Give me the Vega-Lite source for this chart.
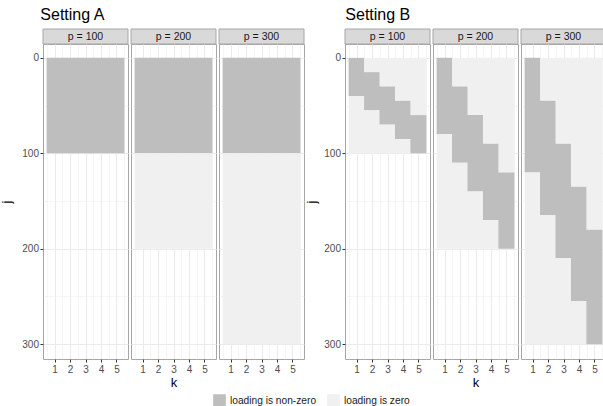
{
  "$schema": "https://vega.github.io/schema/vega-lite/v6.json",
  "padding": {"left": 0, "top": 6, "right": 0, "bottom": 0},
  "background": "white",
  "spacing": 0,
  "config": {
    "font": "Liberation Sans",
    "view": {"stroke": "#a6a6a6", "strokeWidth": 1},
    "title": {"fontSize": 16, "fontWeight": "normal", "color": "#000000", "anchor": "start", "offset": 6},
    "concat": {"spacing": 1},
    "axis": {"labelFont": "Liberation Sans", "titleFont": "Liberation Sans", "titleFontWeight": "normal"}
  },
  "datasets": {
    "tiles": [
      {"setting": "A", "p": 100, "k": 1, "j_from": 0, "j_to": 100, "status": "loading is non-zero"},
      {"setting": "A", "p": 100, "k": 2, "j_from": 0, "j_to": 100, "status": "loading is non-zero"},
      {"setting": "A", "p": 100, "k": 3, "j_from": 0, "j_to": 100, "status": "loading is non-zero"},
      {"setting": "A", "p": 100, "k": 4, "j_from": 0, "j_to": 100, "status": "loading is non-zero"},
      {"setting": "A", "p": 100, "k": 5, "j_from": 0, "j_to": 100, "status": "loading is non-zero"},
      {"setting": "A", "p": 200, "k": 1, "j_from": 0, "j_to": 100, "status": "loading is non-zero"},
      {"setting": "A", "p": 200, "k": 2, "j_from": 0, "j_to": 100, "status": "loading is non-zero"},
      {"setting": "A", "p": 200, "k": 3, "j_from": 0, "j_to": 100, "status": "loading is non-zero"},
      {"setting": "A", "p": 200, "k": 4, "j_from": 0, "j_to": 100, "status": "loading is non-zero"},
      {"setting": "A", "p": 200, "k": 5, "j_from": 0, "j_to": 100, "status": "loading is non-zero"},
      {"setting": "A", "p": 200, "k": 1, "j_from": 100, "j_to": 200, "status": "loading is zero"},
      {"setting": "A", "p": 200, "k": 2, "j_from": 100, "j_to": 200, "status": "loading is zero"},
      {"setting": "A", "p": 200, "k": 3, "j_from": 100, "j_to": 200, "status": "loading is zero"},
      {"setting": "A", "p": 200, "k": 4, "j_from": 100, "j_to": 200, "status": "loading is zero"},
      {"setting": "A", "p": 200, "k": 5, "j_from": 100, "j_to": 200, "status": "loading is zero"},
      {"setting": "A", "p": 300, "k": 1, "j_from": 0, "j_to": 100, "status": "loading is non-zero"},
      {"setting": "A", "p": 300, "k": 2, "j_from": 0, "j_to": 100, "status": "loading is non-zero"},
      {"setting": "A", "p": 300, "k": 3, "j_from": 0, "j_to": 100, "status": "loading is non-zero"},
      {"setting": "A", "p": 300, "k": 4, "j_from": 0, "j_to": 100, "status": "loading is non-zero"},
      {"setting": "A", "p": 300, "k": 5, "j_from": 0, "j_to": 100, "status": "loading is non-zero"},
      {"setting": "A", "p": 300, "k": 1, "j_from": 100, "j_to": 300, "status": "loading is zero"},
      {"setting": "A", "p": 300, "k": 2, "j_from": 100, "j_to": 300, "status": "loading is zero"},
      {"setting": "A", "p": 300, "k": 3, "j_from": 100, "j_to": 300, "status": "loading is zero"},
      {"setting": "A", "p": 300, "k": 4, "j_from": 100, "j_to": 300, "status": "loading is zero"},
      {"setting": "A", "p": 300, "k": 5, "j_from": 100, "j_to": 300, "status": "loading is zero"},

      {"setting": "B", "p": 100, "k": 1, "j_from": 0, "j_to": 40, "status": "loading is non-zero"},
      {"setting": "B", "p": 100, "k": 1, "j_from": 40, "j_to": 100, "status": "loading is zero"},
      {"setting": "B", "p": 100, "k": 2, "j_from": 0, "j_to": 15, "status": "loading is zero"},
      {"setting": "B", "p": 100, "k": 2, "j_from": 15, "j_to": 55, "status": "loading is non-zero"},
      {"setting": "B", "p": 100, "k": 2, "j_from": 55, "j_to": 100, "status": "loading is zero"},
      {"setting": "B", "p": 100, "k": 3, "j_from": 0, "j_to": 30, "status": "loading is zero"},
      {"setting": "B", "p": 100, "k": 3, "j_from": 30, "j_to": 70, "status": "loading is non-zero"},
      {"setting": "B", "p": 100, "k": 3, "j_from": 70, "j_to": 100, "status": "loading is zero"},
      {"setting": "B", "p": 100, "k": 4, "j_from": 0, "j_to": 45, "status": "loading is zero"},
      {"setting": "B", "p": 100, "k": 4, "j_from": 45, "j_to": 85, "status": "loading is non-zero"},
      {"setting": "B", "p": 100, "k": 4, "j_from": 85, "j_to": 100, "status": "loading is zero"},
      {"setting": "B", "p": 100, "k": 5, "j_from": 0, "j_to": 60, "status": "loading is zero"},
      {"setting": "B", "p": 100, "k": 5, "j_from": 60, "j_to": 100, "status": "loading is non-zero"},

      {"setting": "B", "p": 200, "k": 1, "j_from": 0, "j_to": 80, "status": "loading is non-zero"},
      {"setting": "B", "p": 200, "k": 1, "j_from": 80, "j_to": 200, "status": "loading is zero"},
      {"setting": "B", "p": 200, "k": 2, "j_from": 0, "j_to": 30, "status": "loading is zero"},
      {"setting": "B", "p": 200, "k": 2, "j_from": 30, "j_to": 110, "status": "loading is non-zero"},
      {"setting": "B", "p": 200, "k": 2, "j_from": 110, "j_to": 200, "status": "loading is zero"},
      {"setting": "B", "p": 200, "k": 3, "j_from": 0, "j_to": 60, "status": "loading is zero"},
      {"setting": "B", "p": 200, "k": 3, "j_from": 60, "j_to": 140, "status": "loading is non-zero"},
      {"setting": "B", "p": 200, "k": 3, "j_from": 140, "j_to": 200, "status": "loading is zero"},
      {"setting": "B", "p": 200, "k": 4, "j_from": 0, "j_to": 90, "status": "loading is zero"},
      {"setting": "B", "p": 200, "k": 4, "j_from": 90, "j_to": 170, "status": "loading is non-zero"},
      {"setting": "B", "p": 200, "k": 4, "j_from": 170, "j_to": 200, "status": "loading is zero"},
      {"setting": "B", "p": 200, "k": 5, "j_from": 0, "j_to": 120, "status": "loading is zero"},
      {"setting": "B", "p": 200, "k": 5, "j_from": 120, "j_to": 200, "status": "loading is non-zero"},

      {"setting": "B", "p": 300, "k": 1, "j_from": 0, "j_to": 120, "status": "loading is non-zero"},
      {"setting": "B", "p": 300, "k": 1, "j_from": 120, "j_to": 300, "status": "loading is zero"},
      {"setting": "B", "p": 300, "k": 2, "j_from": 0, "j_to": 45, "status": "loading is zero"},
      {"setting": "B", "p": 300, "k": 2, "j_from": 45, "j_to": 165, "status": "loading is non-zero"},
      {"setting": "B", "p": 300, "k": 2, "j_from": 165, "j_to": 300, "status": "loading is zero"},
      {"setting": "B", "p": 300, "k": 3, "j_from": 0, "j_to": 90, "status": "loading is zero"},
      {"setting": "B", "p": 300, "k": 3, "j_from": 90, "j_to": 210, "status": "loading is non-zero"},
      {"setting": "B", "p": 300, "k": 3, "j_from": 210, "j_to": 300, "status": "loading is zero"},
      {"setting": "B", "p": 300, "k": 4, "j_from": 0, "j_to": 135, "status": "loading is zero"},
      {"setting": "B", "p": 300, "k": 4, "j_from": 135, "j_to": 255, "status": "loading is non-zero"},
      {"setting": "B", "p": 300, "k": 4, "j_from": 255, "j_to": 300, "status": "loading is zero"},
      {"setting": "B", "p": 300, "k": 5, "j_from": 0, "j_to": 180, "status": "loading is zero"},
      {"setting": "B", "p": 300, "k": 5, "j_from": 180, "j_to": 300, "status": "loading is non-zero"}
    ]
  },
  "hconcat": [
    {
      "title": {"text": "Setting A", "dx": 40},
      "spacing": 1,
      "hconcat": [
        {"bounds": "flush", "spacing": 0, "vconcat": [
          {"width": 85, "height": 15, "view": {"stroke": null}, "data": {"values": [{"label": "p = 100"}]}, "layer": [
            {"mark": {"type": "rect", "fill": "#d9d9d9", "stroke": "#a6a6a6", "strokeWidth": 1}, "encoding": {}},
            {"mark": {"type": "text", "fontSize": 10.5, "color": "#1a1a1a", "baseline": "middle"}, "encoding": {"text": {"field": "label"}}}
          ]},
          {"width": 85, "height": 315, "data": {"name": "tiles"},
           "transform": [{"filter": "datum.setting === 'A' && datum.p === 100"}],
           "mark": {"type": "rect", "width": 16},
           "encoding": {
             "x": {"field": "k", "type": "quantitative", "scale": {"domain": [0.25, 5.75], "nice": false, "zero": false},
                   "axis": {"title": null, "values": [0.5, 1, 1.5, 2, 2.5, 3, 3.5, 4, 4.5, 5, 5.5], "labelExpr": "datum.value % 1 === 0 ? format(datum.value, 'd') : ''", "domain": false, "tickColor": "#333333", "tickOpacity": {"condition": {"test": "datum.value % 1 === 0", "value": 1}, "value": 0}, "tickSize": 3, "labelFontSize": 10, "labelColor": "#4d4d4d", "labelPadding": 2, "gridColor": "#ebebeb", "gridWidth": {"condition": {"test": "datum.value % 1 === 0", "value": 1}, "value": 0.5}}},
             "y": {"field": "j_from", "type": "quantitative", "scale": {"domain": [-14.5, 315.5], "reverse": true, "nice": false, "zero": false},
                   "axis": {"title": "j", "titleFontSize": 13, "titleColor": "#000000", "titlePadding": 8, "values": [0, 50, 100, 150, 200, 250, 300], "labelExpr": "datum.value % 100 === 0 ? format(datum.value, 'd') : ''", "domain": false, "tickColor": "#333333", "tickOpacity": {"condition": {"test": "datum.value % 100 === 0", "value": 1}, "value": 0}, "tickSize": 3, "labelFontSize": 10, "labelColor": "#4d4d4d", "labelPadding": 1.5, "gridColor": "#ebebeb", "gridWidth": {"condition": {"test": "datum.value % 100 === 0", "value": 1}, "value": 0.5}}},
             "y2": {"field": "j_to"},
             "color": {"field": "status", "type": "nominal", "scale": {"domain": ["loading is non-zero", "loading is zero"], "range": ["#bebebe", "#f0f0f0"]},
                       "legend": {"title": null, "orient": "none", "legendX": 170, "legendY": 365, "direction": "horizontal", "symbolType": "square", "symbolSize": 160, "symbolStrokeWidth": 0, "labelFontSize": 10.2, "labelColor": "#1a1a1a", "columnPadding": 10, "labelOffset": 4}}
           }}
        ]},
        {"bounds": "flush", "spacing": 0, "vconcat": [
          {"width": 85, "height": 15, "view": {"stroke": null}, "data": {"values": [{"label": "p = 200"}]}, "layer": [
            {"mark": {"type": "rect", "fill": "#d9d9d9", "stroke": "#a6a6a6", "strokeWidth": 1}, "encoding": {}},
            {"mark": {"type": "text", "fontSize": 10.5, "color": "#1a1a1a", "baseline": "middle"}, "encoding": {"text": {"field": "label"}}}
          ]},
          {"width": 85, "height": 315, "data": {"name": "tiles"},
           "transform": [{"filter": "datum.setting === 'A' && datum.p === 200"}],
           "mark": {"type": "rect", "width": 16},
           "encoding": {
             "x": {"field": "k", "type": "quantitative", "scale": {"domain": [0.25, 5.75], "nice": false, "zero": false},
                   "axis": {"title": "k", "titleFontSize": 13, "titleColor": "#000000", "titlePadding": 2, "values": [0.5, 1, 1.5, 2, 2.5, 3, 3.5, 4, 4.5, 5, 5.5], "labelExpr": "datum.value % 1 === 0 ? format(datum.value, 'd') : ''", "domain": false, "tickColor": "#333333", "tickOpacity": {"condition": {"test": "datum.value % 1 === 0", "value": 1}, "value": 0}, "tickSize": 3, "labelFontSize": 10, "labelColor": "#4d4d4d", "labelPadding": 2, "gridColor": "#ebebeb", "gridWidth": {"condition": {"test": "datum.value % 1 === 0", "value": 1}, "value": 0.5}}},
             "y": {"field": "j_from", "type": "quantitative", "scale": {"domain": [-14.5, 315.5], "reverse": true, "nice": false, "zero": false},
                   "axis": {"title": null, "labels": false, "ticks": false, "domain": false, "values": [0, 50, 100, 150, 200, 250, 300], "gridColor": "#ebebeb", "gridWidth": {"condition": {"test": "datum.value % 100 === 0", "value": 1}, "value": 0.5}}},
             "y2": {"field": "j_to"},
             "color": {"field": "status", "type": "nominal"}
           }}
        ]},
        {"bounds": "flush", "spacing": 0, "vconcat": [
          {"width": 85, "height": 15, "view": {"stroke": null}, "data": {"values": [{"label": "p = 300"}]}, "layer": [
            {"mark": {"type": "rect", "fill": "#d9d9d9", "stroke": "#a6a6a6", "strokeWidth": 1}, "encoding": {}},
            {"mark": {"type": "text", "fontSize": 10.5, "color": "#1a1a1a", "baseline": "middle"}, "encoding": {"text": {"field": "label"}}}
          ]},
          {"width": 85, "height": 315, "data": {"name": "tiles"},
           "transform": [{"filter": "datum.setting === 'A' && datum.p === 300"}],
           "mark": {"type": "rect", "width": 16},
           "encoding": {
             "x": {"field": "k", "type": "quantitative", "scale": {"domain": [0.25, 5.75], "nice": false, "zero": false},
                   "axis": {"title": null, "values": [0.5, 1, 1.5, 2, 2.5, 3, 3.5, 4, 4.5, 5, 5.5], "labelExpr": "datum.value % 1 === 0 ? format(datum.value, 'd') : ''", "domain": false, "tickColor": "#333333", "tickOpacity": {"condition": {"test": "datum.value % 1 === 0", "value": 1}, "value": 0}, "tickSize": 3, "labelFontSize": 10, "labelColor": "#4d4d4d", "labelPadding": 2, "gridColor": "#ebebeb", "gridWidth": {"condition": {"test": "datum.value % 1 === 0", "value": 1}, "value": 0.5}}},
             "y": {"field": "j_from", "type": "quantitative", "scale": {"domain": [-14.5, 315.5], "reverse": true, "nice": false, "zero": false},
                   "axis": {"title": null, "labels": false, "ticks": false, "domain": false, "values": [0, 50, 100, 150, 200, 250, 300], "gridColor": "#ebebeb", "gridWidth": {"condition": {"test": "datum.value % 100 === 0", "value": 1}, "value": 0.5}}},
             "y2": {"field": "j_to"},
             "color": {"field": "status", "type": "nominal"}
           }}
        ]}
      ]
    },
    {
      "title": {"text": "Setting B", "dx": 40},
      "spacing": 1,
      "hconcat": [
        {"bounds": "flush", "spacing": 0, "vconcat": [
          {"width": 85, "height": 15, "view": {"stroke": null}, "data": {"values": [{"label": "p = 100"}]}, "layer": [
            {"mark": {"type": "rect", "fill": "#d9d9d9", "stroke": "#a6a6a6", "strokeWidth": 1}, "encoding": {}},
            {"mark": {"type": "text", "fontSize": 10.5, "color": "#1a1a1a", "baseline": "middle"}, "encoding": {"text": {"field": "label"}}}
          ]},
          {"width": 85, "height": 315, "data": {"name": "tiles"},
           "transform": [{"filter": "datum.setting === 'B' && datum.p === 100"}],
           "mark": {"type": "rect", "width": 16},
           "encoding": {
             "x": {"field": "k", "type": "quantitative", "scale": {"domain": [0.25, 5.75], "nice": false, "zero": false},
                   "axis": {"title": null, "values": [0.5, 1, 1.5, 2, 2.5, 3, 3.5, 4, 4.5, 5, 5.5], "labelExpr": "datum.value % 1 === 0 ? format(datum.value, 'd') : ''", "domain": false, "tickColor": "#333333", "tickOpacity": {"condition": {"test": "datum.value % 1 === 0", "value": 1}, "value": 0}, "tickSize": 3, "labelFontSize": 10, "labelColor": "#4d4d4d", "labelPadding": 2, "gridColor": "#ebebeb", "gridWidth": {"condition": {"test": "datum.value % 1 === 0", "value": 1}, "value": 0.5}}},
             "y": {"field": "j_from", "type": "quantitative", "scale": {"domain": [-14.5, 315.5], "reverse": true, "nice": false, "zero": false},
                   "axis": {"title": "j", "titleFontSize": 13, "titleColor": "#000000", "titlePadding": 5, "values": [0, 50, 100, 150, 200, 250, 300], "labelExpr": "datum.value % 100 === 0 ? format(datum.value, 'd') : ''", "domain": false, "tickColor": "#333333", "tickOpacity": {"condition": {"test": "datum.value % 100 === 0", "value": 1}, "value": 0}, "tickSize": 3, "labelFontSize": 10, "labelColor": "#4d4d4d", "labelPadding": 1.5, "gridColor": "#ebebeb", "gridWidth": {"condition": {"test": "datum.value % 100 === 0", "value": 1}, "value": 0.5}}},
             "y2": {"field": "j_to"},
             "color": {"field": "status", "type": "nominal"}
           }}
        ]},
        {"bounds": "flush", "spacing": 0, "vconcat": [
          {"width": 85, "height": 15, "view": {"stroke": null}, "data": {"values": [{"label": "p = 200"}]}, "layer": [
            {"mark": {"type": "rect", "fill": "#d9d9d9", "stroke": "#a6a6a6", "strokeWidth": 1}, "encoding": {}},
            {"mark": {"type": "text", "fontSize": 10.5, "color": "#1a1a1a", "baseline": "middle"}, "encoding": {"text": {"field": "label"}}}
          ]},
          {"width": 85, "height": 315, "data": {"name": "tiles"},
           "transform": [{"filter": "datum.setting === 'B' && datum.p === 200"}],
           "mark": {"type": "rect", "width": 16},
           "encoding": {
             "x": {"field": "k", "type": "quantitative", "scale": {"domain": [0.25, 5.75], "nice": false, "zero": false},
                   "axis": {"title": "k", "titleFontSize": 13, "titleColor": "#000000", "titlePadding": 2, "values": [0.5, 1, 1.5, 2, 2.5, 3, 3.5, 4, 4.5, 5, 5.5], "labelExpr": "datum.value % 1 === 0 ? format(datum.value, 'd') : ''", "domain": false, "tickColor": "#333333", "tickOpacity": {"condition": {"test": "datum.value % 1 === 0", "value": 1}, "value": 0}, "tickSize": 3, "labelFontSize": 10, "labelColor": "#4d4d4d", "labelPadding": 2, "gridColor": "#ebebeb", "gridWidth": {"condition": {"test": "datum.value % 1 === 0", "value": 1}, "value": 0.5}}},
             "y": {"field": "j_from", "type": "quantitative", "scale": {"domain": [-14.5, 315.5], "reverse": true, "nice": false, "zero": false},
                   "axis": {"title": null, "labels": false, "ticks": false, "domain": false, "values": [0, 50, 100, 150, 200, 250, 300], "gridColor": "#ebebeb", "gridWidth": {"condition": {"test": "datum.value % 100 === 0", "value": 1}, "value": 0.5}}},
             "y2": {"field": "j_to"},
             "color": {"field": "status", "type": "nominal"}
           }}
        ]},
        {"bounds": "flush", "spacing": 0, "vconcat": [
          {"width": 85, "height": 15, "view": {"stroke": null}, "data": {"values": [{"label": "p = 300"}]}, "layer": [
            {"mark": {"type": "rect", "fill": "#d9d9d9", "stroke": "#a6a6a6", "strokeWidth": 1}, "encoding": {}},
            {"mark": {"type": "text", "fontSize": 10.5, "color": "#1a1a1a", "baseline": "middle"}, "encoding": {"text": {"field": "label"}}}
          ]},
          {"width": 85, "height": 315, "data": {"name": "tiles"},
           "transform": [{"filter": "datum.setting === 'B' && datum.p === 300"}],
           "mark": {"type": "rect", "width": 16},
           "encoding": {
             "x": {"field": "k", "type": "quantitative", "scale": {"domain": [0.25, 5.75], "nice": false, "zero": false},
                   "axis": {"title": null, "values": [0.5, 1, 1.5, 2, 2.5, 3, 3.5, 4, 4.5, 5, 5.5], "labelExpr": "datum.value % 1 === 0 ? format(datum.value, 'd') : ''", "domain": false, "tickColor": "#333333", "tickOpacity": {"condition": {"test": "datum.value % 1 === 0", "value": 1}, "value": 0}, "tickSize": 3, "labelFontSize": 10, "labelColor": "#4d4d4d", "labelPadding": 2, "gridColor": "#ebebeb", "gridWidth": {"condition": {"test": "datum.value % 1 === 0", "value": 1}, "value": 0.5}}},
             "y": {"field": "j_from", "type": "quantitative", "scale": {"domain": [-14.5, 315.5], "reverse": true, "nice": false, "zero": false},
                   "axis": {"title": null, "labels": false, "ticks": false, "domain": false, "values": [0, 50, 100, 150, 200, 250, 300], "gridColor": "#ebebeb", "gridWidth": {"condition": {"test": "datum.value % 100 === 0", "value": 1}, "value": 0.5}}},
             "y2": {"field": "j_to"},
             "color": {"field": "status", "type": "nominal"}
           }}
        ]}
      ]
    }
  ]
}
